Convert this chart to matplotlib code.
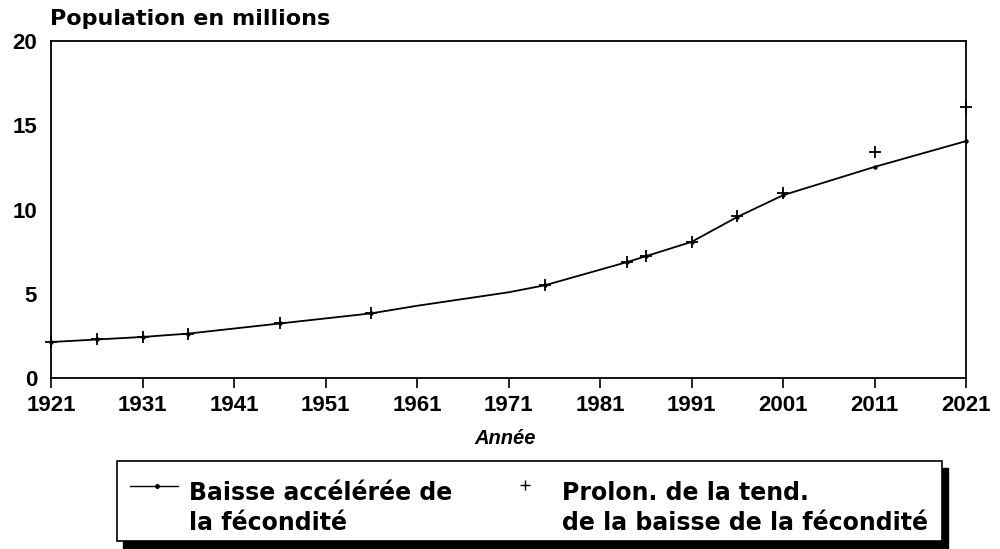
import matplotlib
matplotlib.use("Agg")
import matplotlib.pyplot as plt
from matplotlib.patches import Rectangle
from matplotlib.lines import Line2D

plt.rcParams['font.family'] = ['Liberation Sans', 'DejaVu Sans']

years_a = [1921, 1926, 1931, 1936, 1946, 1956, 1961, 1966, 1971, 1975, 1984, 1986, 1991, 1996, 2001, 2011, 2021]
pop_a = [2.15, 2.3, 2.45, 2.65, 3.25, 3.85, 4.3, 4.7, 5.1, 5.52, 6.9, 7.24, 8.09, 9.57, 10.86, 12.54, 14.07]
years_b = [1921, 1926, 1931, 1936, 1946, 1956, 1975, 1984, 1986, 1991, 1996, 2001, 2011, 2021]
pop_b = [2.15, 2.3, 2.45, 2.65, 3.25, 3.85, 5.52, 6.9, 7.24, 8.09, 9.6, 11.0, 13.4, 16.1]
xticks = [1921, 1931, 1941, 1951, 1961, 1971, 1981, 1991, 2001, 2011, 2021]
yticks = [0, 5, 10, 15, 20]
label_a = ["Baisse accélérée de", "la fécondité"]
label_b = ["Prolon. de la tend.", "de la baisse de la fécondité"]

W, H = 1000, 549
fig = plt.figure(figsize=(W / 100, H / 100), dpi=100)
ax = fig.add_axes([0.051, 0.311, 0.915, 0.614])

marked = [i for i, y in enumerate(years_a) if y not in (1961, 1966, 1971)]
ax.plot(years_a, pop_a, color='black', lw=1.3, marker='o', ms=2.2, markevery=marked, clip_on=False)
ax.plot(years_b, pop_b, color='black', lw=0, marker='+', ms=8, mew=1.3, clip_on=False)

ax.set_xlim(1921, 2021)
ax.set_ylim(0, 20)
ax.set_xticks(xticks)
ax.set_yticks(yticks)
ax.tick_params(axis='x', direction='out', length=7, width=1.2, pad=5, labelsize=16)
ax.tick_params(axis='y', length=0, pad=10, labelsize=16)
for lab in ax.get_xticklabels() + ax.get_yticklabels():
    lab.set_fontweight('bold')
for s in ax.spines.values():
    s.set_linewidth(1.3)

fig.text(0.05, 0.965, "Population en millions", fontsize=16, fontweight='bold',
         family='DejaVu Sans', va='center', ha='left')
fig.text(0.505, 0.202, "Année", fontsize=14.5, fontweight='bold', style='italic', ha='center', va='center')

def fy(py):
    return 1 - py / H

# legend box with shadow
fig.patches.append(Rectangle((123 / W, fy(549)), (948 - 123) / W, (549 - 468) / H,
                             transform=fig.transFigure, facecolor='black', edgecolor='black'))
fig.patches.append(Rectangle((117 / W, fy(541)), (942 - 117) / W, (541 - 461) / H,
                             transform=fig.transFigure, facecolor='white', edgecolor='black', lw=1.2))
fig.lines.append(Line2D([130 / W, 178 / W], [fy(486), fy(486)], transform=fig.transFigure,
                        color='black', lw=1.0))
fig.lines.append(Line2D([157 / W], [fy(486)], transform=fig.transFigure,
                        color='black', marker='o', ms=2.5, lw=0))
for i, t in enumerate(label_a):
    fig.text(189 / W, fy(500 + 30 * i), t, fontsize=17, fontweight='bold', family='DejaVu Sans',
             ha='left', va='baseline')
fig.lines.append(Line2D([525 / W], [fy(485)], transform=fig.transFigure,
                        color='black', marker='+', ms=7, mew=1.0, lw=0))
for i, t in enumerate(label_b):
    fig.text(562 / W, fy(500 + 30 * i), t, fontsize=17, fontweight='bold', family='DejaVu Sans',
             ha='left', va='baseline')

fig.savefig("out.png", dpi=100)
